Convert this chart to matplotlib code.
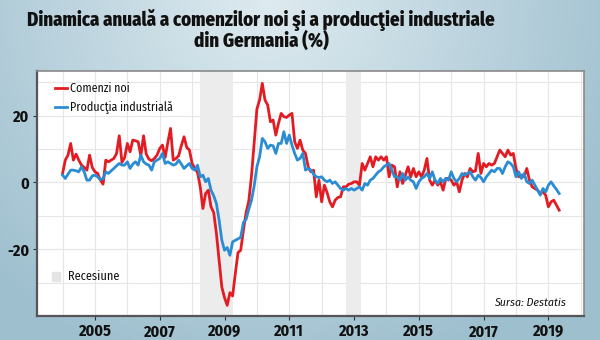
import numpy as np
import matplotlib
matplotlib.use('Agg')
import matplotlib.pyplot as plt
from matplotlib.patches import Rectangle
from matplotlib.lines import Line2D

# ---------------- data (monthly, Jan 2004 - May 2019) ----------------
start_year = 2004
comenzi_noi = [
    2.7, 6.7, 8.2, 11.7, 6.7, 8.5, 6.7, 5.2, 4.5, 3.7, 8.2, 4.5,          # 2004
    3.2, 2.7, 0.7, -0.5, 6.7, 6.2, 6.7, 7.2, 8.7, 14.0, 6.0, 7.5,         # 2005
    11.7, 9.2, 12.7, 12.5, 12.2, 8.0, 14.0, 8.5, 7.0, 6.5, 7.2, 8.2,      # 2006
    10.2, 11.2, 7.5, 12.0, 16.2, 6.7, 7.2, 8.0, 11.0, 13.7, 10.5, 9.7,    # 2007
    5.7, 4.2, 3.0, -1.3, -7.8, -3.3, -2.3, -7.3, -9.0, -15.3, -23.3, -31.3,  # 2008
    -34.5, -36.8, -33.0, -34.0, -27.3, -21.0, -20.3, -14.3, -9.0, -5.5, 2.0, 12.0,  # 2009
    22.0, 24.7, 29.7, 24.7, 23.2, 18.2, 18.7, 14.2, 17.7, 20.7, 19.7, 19.5,  # 2010
    20.2, 20.7, 12.2, 10.2, 12.7, 9.7, 8.7, 4.7, 3.2, 3.7, -4.3, 0.7,     # 2011
    -5.8, -0.8, -3.0, -5.8, -7.3, -5.3, -4.5, -4.3, -1.3, -1.3, -0.5, -0.3,  # 2012
    0.2, 0.2, -0.8, 5.7, 3.7, 5.7, 7.7, 4.7, 7.7, 6.7, 7.7, 6.7,          # 2013
    7.7, 1.7, 5.2, 4.7, -1.3, 3.2, -0.3, 2.2, 4.7, 1.7, 4.2, 1.7,         # 2014
    3.2, 1.7, 3.7, 7.2, 0.7, -0.8, 0.7, -0.8, 0.2, -2.3, 1.2, 1.2,        # 2015
    0.7, -0.8, 0.2, -2.8, 0.7, 2.7, 1.7, 4.2, 3.2, 3.5, 8.7, 2.7,         # 2016
    5.7, 4.7, 5.7, 5.2, 5.7, 7.7, 9.7, 8.7, 7.7, 9.7, 8.2, 8.7,           # 2017
    4.2, 1.7, 2.2, 1.7, 4.2, 0.7, -1.3, -1.8, -2.3, -3.3, -2.8, -3.8,     # 2018
    -7.3, -5.8, -5.3, -6.8, -8.3,                                         # 2019
]
productia_industriala = [
    2.2, 1.2, 2.5, 3.7, 3.7, 3.5, 3.2, 4.7, 3.2, 0.7, 0.7, 2.0,           # 2004
    2.2, 1.7, 0.8, 1.2, 3.2, 2.7, 3.5, 4.2, 5.0, 5.7, 5.2, 5.2,           # 2005
    6.2, 4.2, 5.5, 6.2, 5.2, 8.2, 6.2, 5.5, 5.2, 3.7, 6.2, 6.7,           # 2006
    7.2, 8.7, 5.7, 6.2, 5.7, 5.2, 5.5, 6.7, 5.5, 4.2, 5.0, 5.7,           # 2007
    4.2, 3.7, 5.2, 1.7, 2.2, 0.2, 1.2, -2.3, -4.0, -6.3, -11.3, -17.3,    # 2008
    -20.3, -19.5, -21.8, -17.8, -17.3, -16.9, -16.4, -12.0, -11.0, -8.0, -5.3, -1.0,  # 2009
    4.7, 7.7, 13.2, 12.2, 10.2, 11.2, 11.0, 8.7, 11.7, 11.7, 15.2, 11.7,  # 2010
    14.2, 11.2, 8.7, 6.7, 7.2, 8.7, 3.7, 4.2, 3.7, 2.5, 1.7, 1.5,         # 2011
    1.7, 0.7, 0.2, 0.7, -0.3, 0.2, -0.8, -1.8, -2.3, -1.8, -2.3, -1.8,    # 2012
    -2.3, -1.8, -1.3, -2.3, -0.3, -0.8, 0.7, 1.2, 2.2, 3.2, 3.7, 4.7,     # 2013
    5.2, 5.7, 3.7, 1.7, 1.7, 0.7, 2.7, 0.7, 1.7, 0.7, 0.2, -1.8,          # 2014
    0.2, 1.2, 1.7, 2.7, 1.2, 3.2, 0.7, -0.3, 1.2, 0.2, 1.2, 0.7,          # 2015
    3.2, 1.2, 0.2, 1.2, 2.7, 2.2, 2.7, 3.2, 1.7, 0.7, 2.2, 1.5,           # 2016
    0.2, 1.7, 2.7, 3.7, 3.2, 4.2, 4.2, 2.7, 4.7, 6.2, 5.7, 4.7,           # 2017
    1.7, 3.2, 1.2, 2.7, 0.2, -0.3, 0.7, -0.8, -2.3, -3.8, -1.8, -2.8,     # 2018
    -0.8, 0.2, -1.0, -2.1, -3.3,                                          # 2019
]
recesiuni = [(2008.25, 2009.25), (2012.75, 2013.2)]
ani_etichete = [2005, 2007, 2009, 2011, 2013, 2015, 2017, 2019]
ani_grila = list(range(2004, 2021))
y_etichete = [-20, 0, 20]
y_grila = [-30, -20, -10, 0, 10, 20, 30]
titlu = 'Dinamica anuală a comenzilor noi şi a producţiei industriale\ndin Germania (%)'

W, H = 600, 340
FONT = ['Fira Sans Condensed', 'DejaVu Sans']
RED = '#e31b23'
BLUE = '#2a8dd4'

def fx(x):
    return x / W

def fy(y):
    return 1 - y / H

fig = plt.figure(figsize=(6, 3.4), dpi=100)

# background gradient
bg = fig.add_axes([0, 0, 1, 1], zorder=-10)
ny, nx = 170, 300
X, Y = np.meshgrid(np.linspace(0, 1, nx), np.linspace(0, 1, ny))
t = np.clip(np.sqrt(((X - 0.45) / 0.65) ** 2 + (Y / 1.15) ** 2), 0, 1)
light = np.array([0.87, 0.92, 0.94])
dark = np.array([0.62, 0.75, 0.81])
img = light[None, None, :] * (1 - t[..., None]) + dark[None, None, :] * t[..., None]
bg.imshow(img, extent=[0, 1, 0, 1], aspect='auto', origin='upper')
bg.axis('off')

# main axes
ax = fig.add_axes([fx(37), fy(316), fx(584) - fx(37), fy(71) - fy(316)])
ax.set_facecolor('white')
ax.set_xlim(2003.21, 2020.1)
ax.set_ylim(-40, 33.4)

for yr in ani_grila:
    ax.axvline(yr, color='#e6e6e6', lw=0.8, zorder=0)
for yv in y_grila:
    ax.axhline(yv, color='#e6e6e6', lw=0.8, zorder=0)

for a, b in recesiuni:
    ax.axvspan(a, b, color='#ececec', lw=0, zorder=0.5)

x = start_year + np.arange(len(comenzi_noi)) / 12.0
ax.plot(x, comenzi_noi, color=RED, lw=2.0, zorder=3, solid_joinstyle='round')
ax.plot(x, productia_industriala, color=BLUE, lw=2.0, zorder=3, solid_joinstyle='round')

ax.set_xticks(ani_etichete)
ax.set_xticklabels([str(v) for v in ani_etichete])
ax.set_yticks(y_etichete)
ax.set_yticklabels([str(v) for v in y_etichete])
ax.tick_params(axis='both', length=3, width=0.8, color='#333333', pad=2.5,
               labelsize=11.5, labelcolor='#111111')
for lab in ax.get_xticklabels() + ax.get_yticklabels():
    lab.set_family(FONT)
    lab.set_fontweight('bold')

for side in ['left', 'bottom']:
    ax.spines[side].set_color('#555555')
    ax.spines[side].set_linewidth(1.6)
for side in ['top', 'right']:
    ax.spines[side].set_color('#8a8a8a')
    ax.spines[side].set_linewidth(1.2)

# legend
fig.add_artist(Line2D([fx(55), fx(67)], [fy(88), fy(88)], color=RED, lw=2.0,
                      transform=fig.transFigure))
fig.text(fx(70), fy(88), 'Comenzi noi', family=FONT, fontsize=8.6, va='center', ha='left',
         color='#111111')
fig.add_artist(Line2D([fx(55), fx(67)], [fy(106.5), fy(106.5)], color=BLUE, lw=2.0,
                      transform=fig.transFigure))
fig.text(fx(70), fy(106.5), 'Producţia industrială', family=FONT, fontsize=8.6, va='center',
         ha='left', color='#111111')
fig.add_artist(Rectangle((fx(52), fy(281)), fx(8), 9 / H, color='#e4e4e4',
                         transform=fig.transFigure))
fig.text(fx(68), fy(276.5), 'Recesiune', family=FONT, fontsize=8.8, va='center', ha='left',
         color='#111111')
fig.text(fx(566), fy(302.5), 'Sursa: Destatis', family=FONT, fontsize=8.5, style='italic',
         va='center', ha='right', color='#111111')

# title (two lines in one text; baseline of the last line)
fig.text(fx(261), fy(47), titlu, family=FONT, fontsize=13.6, fontweight=800,
         ha='center', va='baseline', multialignment='center', linespacing=0.98,
         color='#111111')

fig.savefig('out.png', dpi=100)
